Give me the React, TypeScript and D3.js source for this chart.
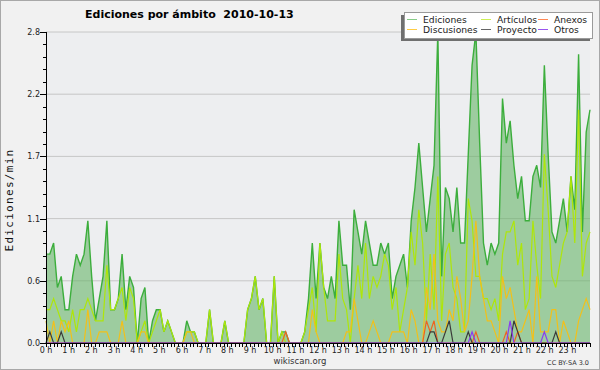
import React from 'react'
import * as d3 from 'd3'

// 10-minute buckets, 6 per hour, 24 hours (edits per minute)
const ediciones = [
  0.8, 0.8, 0.9, 0.5, 0.6, 0.3,
  0.3, 0.6, 0.8, 0.7, 0.8, 1.1,
  0.6, 0.2, 0.4, 0.6, 1.1, 0.3,
  0.3, 0.4, 0.8, 0.3, 0.6, 0.5,
  0, 0.4, 0.5, 0, 0.2, 0.3,
  0.3, 0.1, 0.2, 0.1, 0, 0,
  0, 0.2, 0.1, 0.1, 0, 0,
  0, 0.3, 0, 0, 0, 0.2,
  0, 0, 0, 0, 0, 0.3,
  0.4, 0.6, 0.3, 0.4, 0, 0,
  0.6, 0, 0.1, 0.1, 0, 0,
  0, 0, 0.1, 0.4, 0.9, 0.4,
  0.9, 0.5, 0.4, 0.6, 0.4, 1.1,
  0.7, 0.7, 0.3, 1.2, 1.0, 0.8,
  1.1, 0.9, 0.7, 0.7, 0.9, 0.8,
  0.9, 0.4, 0.6, 0.7, 0.8, 0.5,
  1.1, 1.4, 1.8, 1.4, 1.0, 1.3,
  1.6, 2.8, 0.6, 1.4, 1.3, 1.0,
  1.4, 0.9, 0.9, 1.7, 2.5, 2.8,
  1.8, 0.9, 0.7, 0.9, 0.8, 0.9,
  2.2, 1.8, 2.0, 1.6, 1.3, 1.5,
  1.1, 1.1, 1.5, 1.6, 1.4, 2.5,
  1.7, 1.0, 0.9, 1.1, 1.3, 1.0,
  1.5, 1.2, 2.6, 1.0, 1.9, 2.1,
]

const articulos = [
  0.3, 0.3, 0.4, 0.3, 0.2, 0.2,
  0.1, 0.3, 0.1, 0.3, 0.3, 0.4,
  0.3, 0.2, 0.2, 0.2, 0.7, 0.3,
  0.3, 0.4, 0.5, 0.2, 0.5, 0.4,
  0, 0.1, 0.2, 0, 0.1, 0.2,
  0.3, 0.1, 0.2, 0.1, 0, 0,
  0, 0.1, 0.1, 0.1, 0, 0,
  0, 0.3, 0, 0, 0, 0.2,
  0, 0, 0, 0, 0, 0.3,
  0.4, 0.6, 0.3, 0.4, 0, 0,
  0.6, 0, 0.1, 0, 0, 0,
  0, 0, 0.1, 0.3, 0.5, 0.1,
  0.9, 0.5, 0.2, 0.2, 0.2, 0.8,
  0.4, 0.3, 0, 0.4, 0.7, 0.4,
  0.9, 0.4, 0.6, 0.5, 0.6, 0.8,
  0.7, 0.3, 0.5, 0.1, 0.3, 0.5,
  1.0, 0.7, 1.2, 0.9, 0.2, 0.8,
  0.3, 1.5, 0.2, 0.8, 0.9, 0.5,
  0.4, 0.1, 0.1, 1.3, 1.1, 0.6,
  0.6, 0.4, 0.4, 0.3, 0.4, 0.2,
  0.8, 1.0, 1.0, 1.1, 0.7, 0.9,
  0.3, 0.4, 1.1, 0.7, 0.4, 1.7,
  1.2, 0.6, 0.5, 0.7, 0.9, 1.0,
  1.5, 0.9, 2.1, 0.6, 0.9, 1.0,
]

const discusiones = [
  0.2, 0, 0.2, 0, 0.2, 0.1,
  0.2, 0, 0, 0, 0, 0.3,
  0, 0, 0.1, 0.1, 0.1, 0,
  0, 0, 0.2, 0, 0, 0,
  0, 0.1, 0.1, 0, 0, 0,
  0, 0, 0, 0, 0, 0,
  0, 0.1, 0.1, 0, 0, 0,
  0, 0, 0, 0, 0, 0,
  0, 0, 0, 0, 0, 0,
  0, 0, 0, 0, 0, 0,
  0, 0, 0, 0, 0, 0,
  0, 0, 0, 0, 0.3, 0.1,
  0, 0, 0, 0, 0, 0,
  0, 0.1, 0.1, 0.4, 0.2, 0,
  0, 0.1, 0.2, 0.1, 0, 0,
  0, 0.1, 0.1, 0.1, 0.1, 0,
  0.3, 0.2, 0, 0, 0.5, 0.3,
  0.8, 0.2, 0.1, 0.1, 0.3, 0.2,
  0.6, 0.4, 0.1, 0.2, 0.6, 1.1,
  0.6, 0.4, 0.2, 0.2, 0.1, 0,
  0.6, 0.4, 0.5, 0.3, 0.1, 0.1,
  0.2, 0.3, 0, 0.6, 0.1, 0.1,
  0.1, 0.3, 0.3, 0, 0.2, 0.1,
  0, 0, 0.2, 0.3, 0.4, 0.3,
]

const proyecto = [
  0, 0.1, 0, 0, 0.1, 0,
  0, 0, 0, 0, 0, 0,
  0, 0, 0, 0, 0, 0,
  0, 0, 0, 0, 0, 0,
  0, 0, 0, 0, 0, 0,
  0, 0, 0, 0, 0, 0,
  0, 0, 0, 0, 0, 0,
  0, 0, 0, 0, 0, 0,
  0, 0, 0, 0, 0, 0,
  0, 0, 0, 0, 0, 0,
  0, 0, 0, 0, 0, 0,
  0, 0, 0, 0, 0, 0,
  0, 0, 0, 0, 0, 0,
  0, 0, 0, 0, 0, 0,
  0, 0, 0, 0, 0, 0,
  0, 0, 0, 0, 0, 0,
  0, 0, 0, 0, 0, 0.1,
  0.1, 0, 0, 0.1, 0.2, 0,
  0, 0, 0, 0.1, 0, 0,
  0, 0, 0, 0, 0, 0,
  0, 0, 0, 0.2, 0.1, 0,
  0, 0, 0, 0, 0, 0,
  0, 0, 0.1, 0, 0, 0,
  0, 0, 0, 0, 0, 0,
]

const anexos = [
  0, 0, 0, 0, 0, 0,
  0, 0, 0, 0, 0, 0,
  0, 0, 0, 0, 0, 0,
  0, 0, 0, 0, 0, 0,
  0, 0, 0, 0, 0, 0,
  0, 0, 0, 0, 0, 0,
  0, 0, 0, 0, 0, 0,
  0, 0, 0, 0, 0, 0,
  0, 0, 0, 0, 0, 0,
  0, 0, 0, 0, 0, 0,
  0, 0, 0, 0.1, 0, 0,
  0, 0, 0, 0, 0, 0,
  0, 0, 0, 0, 0, 0,
  0, 0, 0, 0, 0, 0,
  0, 0, 0, 0, 0, 0,
  0, 0, 0, 0, 0, 0,
  0, 0, 0, 0, 0.2, 0.1,
  0.2, 0, 0, 0, 0, 0,
  0, 0, 0, 0, 0, 0.1,
  0, 0, 0, 0, 0, 0,
  0, 0.1, 0, 0, 0.1, 0,
  0, 0, 0, 0, 0, 0,
  0, 0, 0, 0, 0, 0,
  0, 0, 0, 0, 0, 0,
]

const otros = [
  0, 0, 0, 0, 0, 0,
  0, 0, 0, 0, 0, 0,
  0, 0, 0, 0, 0, 0,
  0, 0, 0, 0, 0, 0,
  0, 0, 0, 0, 0, 0,
  0, 0, 0, 0, 0, 0,
  0, 0, 0, 0, 0, 0,
  0, 0, 0, 0, 0, 0,
  0, 0, 0, 0, 0, 0,
  0, 0, 0, 0, 0, 0,
  0, 0, 0, 0, 0, 0,
  0, 0, 0, 0, 0, 0,
  0, 0, 0, 0, 0, 0,
  0, 0, 0, 0, 0, 0,
  0, 0, 0, 0, 0, 0,
  0, 0, 0, 0, 0, 0,
  0, 0, 0, 0, 0, 0,
  0, 0, 0, 0, 0, 0,
  0, 0, 0, 0, 0.1, 0,
  0, 0, 0, 0, 0, 0,
  0, 0, 0.2, 0, 0, 0,
  0, 0, 0, 0, 0, 0.1,
  0, 0, 0, 0, 0, 0,
  0, 0, 0, 0, 0, 0,
]

const hours = d3.range(24)
const yTicks = [0, 0.56, 1.12, 1.68, 2.24, 2.8]

const lines = [
  { name: 'Artículos', values: articulos, color: '#aee60a', legend: '#ccee55' },
  { name: 'Discusiones', values: discusiones, color: '#f2c01a', legend: '#ffcc44' },
  { name: 'Anexos', values: anexos, color: '#ee6420', legend: '#ff8855' },
  { name: 'Proyecto', values: proyecto, color: '#3a3a3a', legend: '#666666' },
  { name: 'Otros', values: otros, color: '#8a3cf0', legend: '#9955ee' },
]

const legend = [
  { name: 'Ediciones', color: '#88cc88', col: 0, row: 0 },
  { name: 'Artículos', color: '#ccee55', col: 1, row: 0 },
  { name: 'Anexos', color: '#ff8855', col: 2, row: 0 },
  { name: 'Discusiones', color: '#ffcc44', col: 0, row: 1 },
  { name: 'Proyecto', color: '#666666', col: 1, row: 1 },
  { name: 'Otros', color: '#9955ee', col: 2, row: 1 },
]

const W = 600
const H = 370
const m = { left: 46, right: 590, top: 32, bottom: 343 }

export default function App() {
  const x = d3.scaleLinear().domain([0, ediciones.length - 1]).range([m.left, m.right])
  const xh = d3.scaleLinear().domain([0, 24]).range([m.left, m.right])
  const y = d3.scaleLinear().domain([0, 2.8]).range([m.bottom, m.top])

  const area = d3.area<number>().x((d, i) => x(i)).y0(y(0)).y1((d) => y(d))
  const line = d3.line<number>().x((d, i) => x(i)).y((d) => y(d))

  const minorY = d3.range(0, 26).map((k) => k * 0.112)
  const minorX = d3.range(0, 24 * 6 + 1).map((k) => k / 6)
  const legendCols = [407, 481, 538]

  const font = 'DejaVu Sans, sans-serif'

  return (
    <svg width={W} height={H} style={{ display: 'block', position: 'absolute', left: 0, top: 0 }}>
      <rect x={0.5} y={0.5} width={W - 1} height={H - 1} fill="#f1f1f1" stroke="#a8a8a8" />
      <rect x={m.left} y={m.top} width={m.right - m.left} height={m.bottom - m.top} fill="#edeef0" />

      {yTicks.slice(1).map((t) => (
        <line key={t} x1={m.left} x2={m.right} y1={y(t)} y2={y(t)} stroke="#c6c6c6" />
      ))}

      <path d={area(ediciones) || ''} fill="rgb(100,180,100)" fillOpacity={0.58} />
      <path d={line(ediciones) || ''} fill="none" stroke="#3cae3c" strokeWidth={1.4} />
      {lines.map((s) => (
        <path key={s.name} d={line(s.values) || ''} fill="none" stroke={s.color} strokeWidth={1.2} />
      ))}

      {/* y axis */}
      <line x1={m.left + 0.5} x2={m.left + 0.5} y1={m.top} y2={m.bottom} stroke="#000" />
      {minorY.map((t) => (
        <line key={t} x1={m.left - 3} x2={m.left} y1={Math.round(y(t)) + 0.5} y2={Math.round(y(t)) + 0.5} stroke="#000" />
      ))}
      {yTicks.map((t) => (
        <g key={t}>
          <line x1={m.left - 6} x2={m.left} y1={Math.round(y(t)) + 0.5} y2={Math.round(y(t)) + 0.5} stroke="#000" />
          <text x={m.left - 6} y={y(t) + 3} textAnchor="end" fontFamily={font} fontSize={8} fill="#222">
            {d3.format('.1f')(t)}
          </text>
        </g>
      ))}

      {/* x axis */}
      <line x1={m.left} x2={m.right} y1={m.bottom + 0.5} y2={m.bottom + 0.5} stroke="#000" />
      {minorX.map((t) => (
        <line key={t} x1={Math.round(xh(t)) + 0.5} x2={Math.round(xh(t)) + 0.5} y1={m.bottom} y2={m.bottom + 4} stroke="#000" />
      ))}
      {hours.map((h) => (
        <text key={h} x={xh(h)} y={353} textAnchor="middle" fontFamily={font} fontSize={8} fill="#222">
          {`${h} h`}
        </text>
      ))}

      <text
        transform={`translate(13,200) rotate(-90)`}
        textAnchor="middle"
        fontFamily="DejaVu Sans Mono, monospace"
        fontSize={11}
        letterSpacing={1.3}
        fill="#111"
      >
        Ediciones/min
      </text>

      <text x={85} y={18} fontFamily={font} fontWeight="bold" fontSize={11} fill="#000" style={{ whiteSpace: 'pre' }}>
        {'Ediciones por ámbito  2010-10-13'}
      </text>

      {/* legend */}
      <rect x={401} y={15} width={189} height={26} fill="#6f6f6f" />
      <rect x={404.5} y={12.5} width={188} height={26} fill="#ffffff" stroke="#9a9a9a" />
      {legend.map((l) => (
        <g key={l.name}>
          <line
            x1={legendCols[l.col]}
            x2={legendCols[l.col] + 10}
            y1={19.5 + l.row * 10}
            y2={19.5 + l.row * 10}
            stroke={l.color}
          />
          <text x={legendCols[l.col] + 16} y={22.5 + l.row * 10} fontFamily={font} fontSize={9.2} fill="#222">
            {l.name}
          </text>
        </g>
      ))}

      <text x={300} y={364} textAnchor="middle" fontFamily={font} fontSize={8.5} fill="#333">
        wikiscan.org
      </text>
      <text x={589} y={365} textAnchor="end" fontFamily={font} fontSize={6.5} fill="#333">
        CC BY-SA 3.0
      </text>
    </svg>
  )
}
